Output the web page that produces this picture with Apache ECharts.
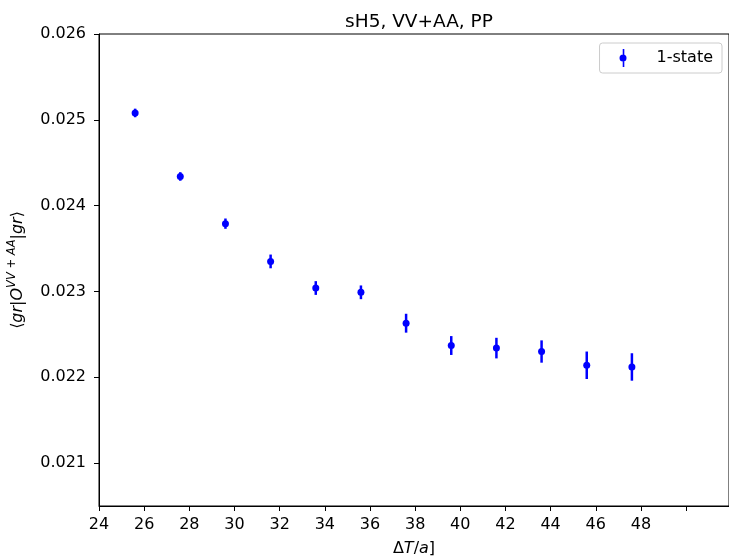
<!DOCTYPE html>
<html><head><meta charset="utf-8">
<script src="https://cdn.jsdelivr.net/npm/echarts@6/dist/echarts.min.js"></script>
<style>html,body{margin:0;padding:0;background:#fff}#c{width:729px;height:560px}</style>
</head><body><div id="c"></div>
<script>
const titleText = 'sH5, VV+AA, PP';
const seriesName = '1-state';
const xValues = [25.6, 27.6, 29.6, 31.6, 33.6, 35.6, 37.6, 39.6, 41.6, 43.6, 45.6, 47.6];
const yValues = [0.02508, 0.02434, 0.02379, 0.02335, 0.02304, 0.02299, 0.02263, 0.02237, 0.02234, 0.02230, 0.02214, 0.02212];
const yErrors = [0.00005, 0.00005, 0.00006, 0.00008, 0.00008, 0.00008, 0.00011, 0.00011, 0.00012, 0.00013, 0.00016, 0.00016];
const xTickValues = [24, 26, 28, 30, 32, 34, 36, 38, 40, 42, 44, 46, 48, 50];
const xTickLabels = [24, 26, 28, 30, 32, 34, 36, 38, 40, 42, 44, 46, 48];
const yTickValues = [0.021, 0.022, 0.023, 0.024, 0.025, 0.026];

const FONT = 'DejaVu Sans';
const FS = 16;
const chart = echarts.init(document.getElementById('c'), null, {renderer: 'canvas'});
const errData = xValues.map((x, i) => [x, yValues[i], yErrors[i]]);
const ptData = xValues.map((x, i) => [x, yValues[i]]);

const option = {
  animation: false,
  backgroundColor: '#ffffff',
  title: {
    text: titleText, left: 414, top: 8, textAlign: 'center',
    textStyle: {fontFamily: FONT, fontSize: 18.5, fontWeight: 'normal', color: '#000'}
  },
  legend: {
    data: [{name: seriesName, icon: 'path://M3.2,0H4.8V18H3.2Z M0,9a3.5,3.5 0 1,1 7,0a3.5,3.5 0 1,1 -7,0Z'}],
    right: 7, top: 43, orient: 'vertical',
    itemWidth: 7, itemHeight: 18,
    padding: [6, 9, 6, 20],
    borderColor: '#cccccc', borderWidth: 1, borderRadius: 3,
    backgroundColor: 'rgba(255,255,255,0.8)',
    textStyle: {fontFamily: FONT, fontSize: FS, color: '#000', padding: [0, 0, 0, 25]}
  },
  grid: {left: 99, right: 0, top: 34, bottom: 54, show: true, borderColor: '#000', borderWidth: 1, backgroundColor: 'transparent', containLabel: false},
  xAxis: {
    type: 'value', min: 24, max: 51.9,
    axisLine: {show: true, lineStyle: {color: '#000', width: 1}},
    axisTick: {show: true, length: 5, lineStyle: {color: '#000', width: 1}, customValues: xTickValues},
    axisLabel: {show: true, margin: 11, fontFamily: FONT, fontSize: FS, color: '#000', customValues: xTickLabels, formatter: v => String(Math.round(v))},
    splitLine: {show: false}
  },
  yAxis: {
    type: 'value', min: 0.0205, max: 0.026,
    axisLine: {show: true, lineStyle: {color: '#000', width: 1}},
    axisTick: {show: true, length: 5, lineStyle: {color: '#000', width: 1}, customValues: yTickValues},
    axisLabel: {show: true, margin: 13, fontFamily: FONT, fontSize: FS, color: '#000', customValues: yTickValues, formatter: v => v.toFixed(3)},
    splitLine: {show: false}
  },
  graphic: [
    {
      type: 'text', x: 18, y: 270, rotation: Math.PI / 2,
      style: {
        text: '{n|⟨}{i|gr}{n||}{i|O}{s|VV + AA}{n||}{i|gr}{n|⟩}',
        align: 'center', verticalAlign: 'middle',
        fontFamily: FONT, fontSize: FS, fill: '#000',
        rich: {
          n: {fontFamily: FONT, fontSize: FS, color: '#000', lineHeight: 24},
          i: {fontFamily: FONT, fontSize: FS, fontStyle: 'italic', color: '#000', lineHeight: 24},
          s: {fontFamily: FONT, fontSize: 11.5, fontStyle: 'italic', color: '#000', verticalAlign: 'top', lineHeight: 24}
        }
      }
    },
    {
      type: 'text', x: 414, y: 549,
      style: {
        text: '{n|Δ}{i|T}{n|/}{i|a}{n|]}',
        align: 'center', verticalAlign: 'middle',
        fontFamily: FONT, fontSize: FS, fill: '#000',
        rich: {
          n: {fontFamily: FONT, fontSize: FS, color: '#000'},
          i: {fontFamily: FONT, fontSize: FS, fontStyle: 'italic', color: '#000'}
        }
      }
    }
  ],
  series: [
    {
      name: 'errorbars', type: 'custom', data: errData, encode: {x: 0, y: 1}, z: 2,
      renderItem: function (params, api) {
        const x = api.value(0), y = api.value(1), e = api.value(2);
        const p1 = api.coord([x, y - e]);
        const p2 = api.coord([x, y + e]);
        return {type: 'line', shape: {x1: p1[0], y1: p1[1], x2: p2[0], y2: p2[1]}, style: {stroke: '#0000ff', lineWidth: 2.5}};
      }
    },
    {
      name: seriesName, type: 'scatter', data: ptData, symbol: 'circle', symbolSize: 7, z: 3,
      itemStyle: {color: '#0000ff', opacity: 1}
    }
  ]
};
chart.setOption(option);
</script>
</body></html>
